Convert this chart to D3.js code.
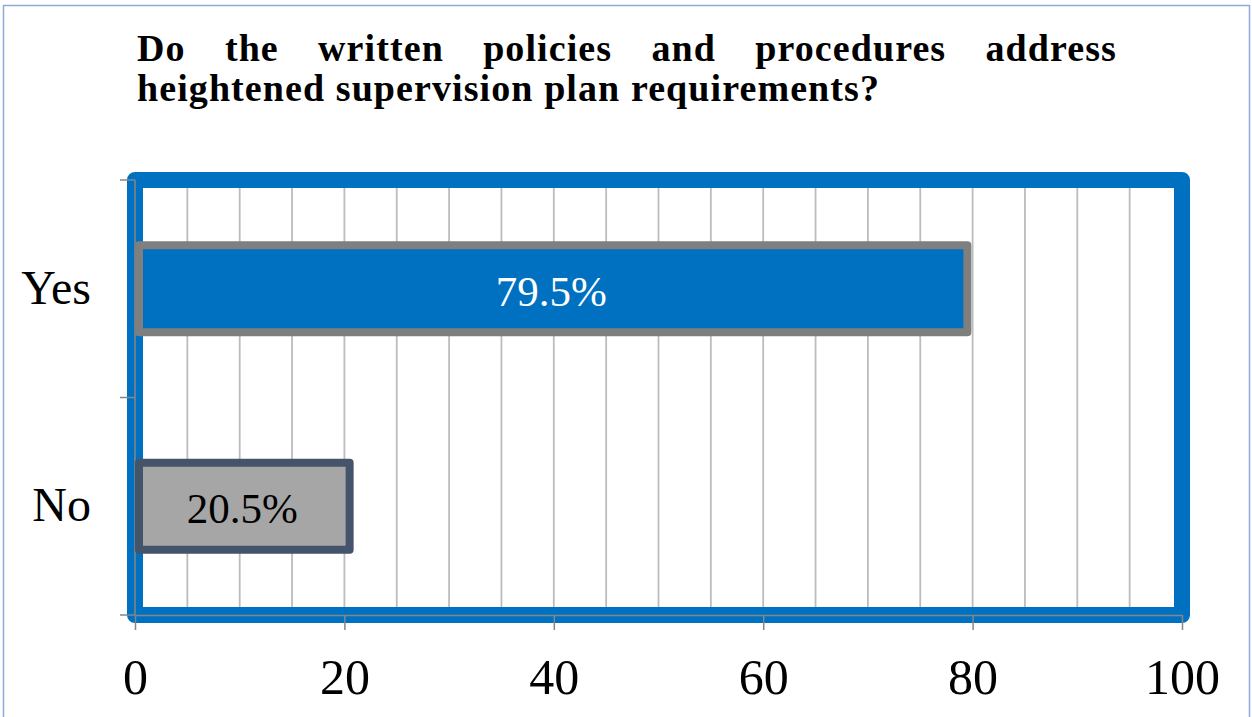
<!DOCTYPE html>
<html>
<head>
<meta charset="utf-8">
<script src="https://cdn.jsdelivr.net/npm/d3@7"></script>
<style>
  html, body { margin: 0; padding: 0; background: #ffffff; }
  svg { display: block; }
</style>
</head>
<body>
<svg id="chart" width="1252" height="717"></svg>
<script>
// ---- data ----
const categories = ["Yes", "No"];
const values = [79.5, 20.5];
const valueLabels = ["79.5%", "20.5%"];
const xTicks = [0, 20, 40, 60, 80, 100];
const titleLine1 = ["Do", "the", "written", "policies", "and", "procedures", "address"];
const titleLine2 = "heightened supervision plan requirements?";

// ---- styles ----
const barFill = ["#0070c0", "#a6a6a6"];
const barStroke = ["#7f7f7f", "#44546a"];
const labelColor = ["#ffffff", "#000000"];

const svg = d3.select("#chart");

// outer light border
svg.append("rect")
  .attr("x", 3.5).attr("y", 5.5)
  .attr("width", 1246).attr("height", 730)
  .attr("fill", "none")
  .attr("stroke", "#8eaadb").attr("stroke-width", 1.5);

const pLeft = 135, pRight = 1182, pTop = 180, pBottom = 615;

const x = d3.scaleLinear().domain([0, 100]).range([pLeft, pRight]);
const y = d3.scaleBand().domain(categories).range([pTop, pBottom])
  .paddingInner(0.6).paddingOuter(0.3);

// gridlines
svg.append("g").selectAll("line")
  .data(d3.range(5, 100, 5))
  .join("line")
  .attr("x1", d => x(d)).attr("x2", d => x(d))
  .attr("y1", pTop).attr("y2", pBottom)
  .attr("stroke", "#bcbcbc").attr("stroke-width", 1.8);

// plot frame
svg.append("rect")
  .attr("x", pLeft).attr("y", pTop)
  .attr("width", pRight - pLeft).attr("height", pBottom - pTop)
  .attr("fill", "none")
  .attr("stroke", "#0070c0").attr("stroke-width", 16)
  .attr("stroke-linejoin", "round");

// axes
const axisColor = "#868686";
const xAxis = svg.append("g")
  .attr("transform", `translate(0,${pBottom})`)
  .call(d3.axisBottom(x).tickValues(xTicks).tickSize(15).tickPadding(28).tickSizeOuter(0));
xAxis.select(".domain").attr("stroke", axisColor).attr("stroke-width", 1.5);
xAxis.selectAll(".tick line").attr("stroke", axisColor).attr("stroke-width", 1.5);
xAxis.selectAll(".tick text")
  .attr("fill", "#000")
  .style("font-family", "'Liberation Serif', serif")
  .style("font-size", "50px");

// left axis: line + ticks at category boundaries
const bounds = d3.range(categories.length + 1).map(i => pTop + i * y.step());
const yAxis = svg.append("g");
yAxis.append("line")
  .attr("x1", pLeft).attr("x2", pLeft)
  .attr("y1", pTop).attr("y2", pBottom)
  .attr("stroke", axisColor).attr("stroke-width", 1.5);
yAxis.selectAll("line.tk")
  .data(bounds)
  .join("line").attr("class", "tk")
  .attr("x1", pLeft - 15).attr("x2", pLeft)
  .attr("y1", d => d).attr("y2", d => d)
  .attr("stroke", axisColor).attr("stroke-width", 1.5);
yAxis.selectAll("text")
  .data(categories)
  .join("text")
  .attr("x", 91)
  .attr("y", d => y(d) + y.bandwidth() / 2 + 15)
  .attr("text-anchor", "end")
  .style("font-family", "'Liberation Serif', serif")
  .style("font-size", "48px")
  .attr("fill", "#000")
  .text(d => d);

// bars
const bw = 8;
svg.append("g").selectAll("rect")
  .data(values)
  .join("rect")
  .attr("x", x(0) + bw / 2)
  .attr("y", (d, i) => y(categories[i]))
  .attr("width", d => x(d) - x(0) - bw / 2)
  .attr("height", y.bandwidth())
  .attr("fill", (d, i) => barFill[i])
  .attr("stroke", (d, i) => barStroke[i])
  .attr("stroke-width", bw)
  .attr("stroke-linejoin", "round");

// bar labels
svg.append("g").selectAll("text")
  .data(values)
  .join("text")
  .attr("x", d => (x(0) + x(d)) / 2)
  .attr("y", (d, i) => y(categories[i]) + y.bandwidth() / 2 + 17)
  .attr("text-anchor", "middle")
  .style("font-family", "'Liberation Serif', serif")
  .style("font-size", "43px")
  .attr("fill", (d, i) => labelColor[i])
  .text((d, i) => valueLabels[i]);

// title
const titleFont = "'Liberation Serif', serif";
const titleSize = 38;
const tLeft = 137, tRight = 1117, line2Right = 880;
const t2 = svg.append("text")
  .attr("x", tLeft).attr("y", 101)
  .style("font-family", titleFont).style("font-weight", "bold")
  .style("font-size", titleSize + "px")
  .text(titleLine2);
const w0 = t2.node().getComputedTextLength();
const ls = (line2Right - tLeft - w0) / titleLine2.length;
t2.style("letter-spacing", ls + "px");

const words = svg.append("g").selectAll("text")
  .data(titleLine1)
  .join("text")
  .attr("y", 61)
  .style("font-family", titleFont).style("font-weight", "bold")
  .style("font-size", titleSize + "px")
  .style("letter-spacing", ls + "px")
  .text(d => d);
const widths = [];
words.each(function() { widths.push(this.getComputedTextLength()); });
const totalW = d3.sum(widths);
const gap = (tRight - tLeft - totalW) / (titleLine1.length - 1);
let cx = tLeft;
words.attr("x", (d, i) => { const p = cx; cx += widths[i] + gap; return p; });
</script>
</body>
</html>
